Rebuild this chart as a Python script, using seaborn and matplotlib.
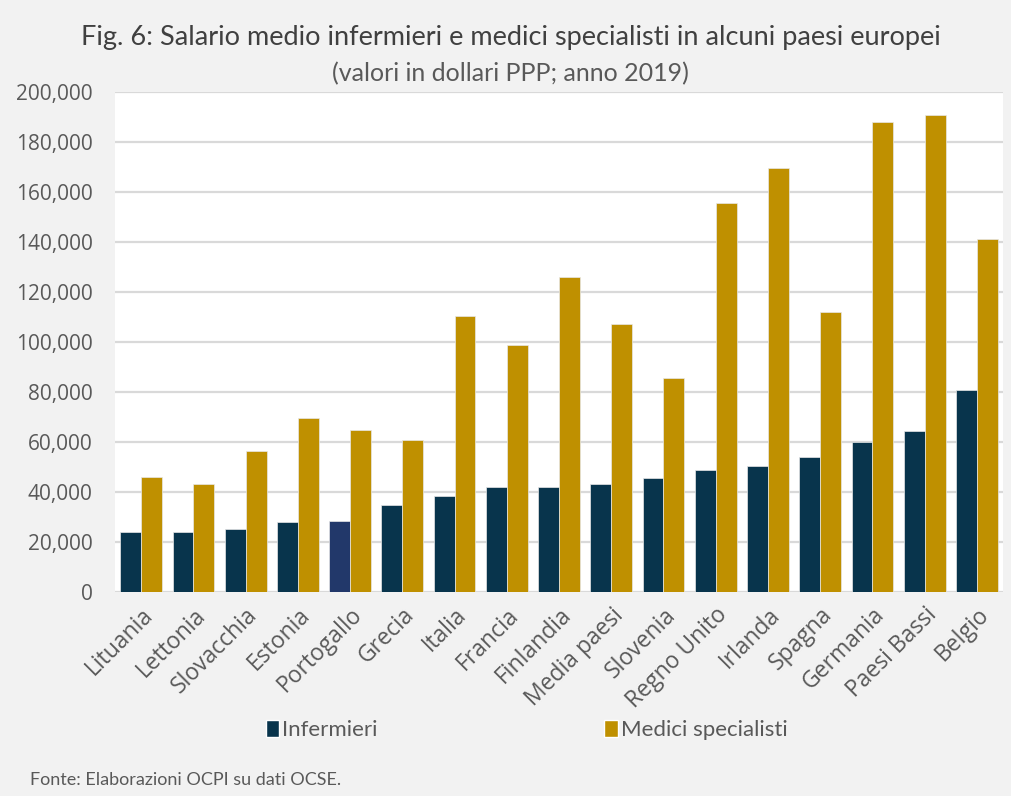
import matplotlib
matplotlib.use("Agg")
import matplotlib.pyplot as plt
import seaborn as sns
import pandas as pd
from matplotlib.patches import Patch

paesi = ["Lituania", "Lettonia", "Slovacchia", "Estonia", "Portogallo", "Grecia",
         "Italia", "Francia", "Finlandia", "Media paesi", "Slovenia", "Regno Unito",
         "Irlanda", "Spagna", "Germania", "Paesi Bassi", "Belgio"]
infermieri = [23800, 23800, 25200, 28000, 28400, 34800, 38400, 42000, 42000,
              43200, 45600, 48800, 50400, 54000, 60000, 64400, 80800]
medici = [46000, 43200, 56400, 69600, 64800, 60800, 110400, 98800, 126000,
          107200, 85600, 155600, 169600, 112000, 188000, 190800, 141200]
serie = ["Infermieri", "Medici specialisti"]
y_ticks = list(range(0, 200001, 20000))

df = pd.DataFrame({
    "Paese": paesi * 2,
    "Serie": [serie[0]] * len(paesi) + [serie[1]] * len(paesi),
    "Valore": infermieri + medici,
})

NAVY = "#08344c"
GOLD = "#bf9000"
HIGHLIGHT = "#22386a"
BG = "#f2f2f2"
TXT = "#595959"
TICK_FONT = ["Open Sans", "DejaVu Sans"]

sns.set_theme(style="white")
plt.rcParams["font.family"] = ["Lato", "DejaVu Sans"]

fig = plt.figure(figsize=(10.11, 7.96), dpi=100, facecolor=BG)
ax = fig.add_axes([0.1138, 0.2563, 0.8783, 0.6281])
ax.set_facecolor("white")

sns.barplot(data=df, x="Paese", y="Valore", hue="Serie", order=paesi,
            hue_order=serie, palette=[NAVY, GOLD], saturation=1, width=0.8, ax=ax,
            legend=False, edgecolor="#e8e8e8", linewidth=0.5)

# highlight Portugal's nurse bar
ax.containers[0][paesi.index("Portogallo")].set_facecolor(HIGHLIGHT)

ax.set_ylim(0, 200000)
ax.set_xlim(-0.5, len(paesi) - 0.5)
ax.set_yticks(y_ticks, [f"{v:,}" for v in y_ticks], family=TICK_FONT,
              fontsize=15, color=TXT)
ax.set_xticks(range(len(paesi)), paesi, family=TICK_FONT, fontsize=16.5,
              color=TXT, rotation=45, ha="right", rotation_mode="anchor")
ax.grid(axis="y", color="#d9d9d9", linewidth=1.6)
ax.set_axisbelow(True)
for s in ax.spines.values():
    s.set_visible(False)
ax.set_xlabel("")
ax.set_ylabel("")
ax.tick_params(axis="y", pad=16, length=0)
ax.tick_params(axis="x", length=0, pad=8)

fig.text(0.505, 0.953, "Fig. 6: Salario medio infermieri e medici specialisti in alcuni paesi europei",
         ha="center", va="center", fontsize=19.5, color="#404040")
fig.text(0.505, 0.908, "(valori in dollari PPP; anno 2019)",
         ha="center", va="center", fontsize=18, color=TXT)

handles = [Patch(facecolor=NAVY), Patch(facecolor=GOLD)]
fig.legend(handles, serie, loc="center", bbox_to_anchor=(0.521, 0.083), ncol=2,
           frameon=False, fontsize=16, handlelength=0.6, handleheight=0.85,
           handletextpad=0.15, columnspacing=10.2, labelcolor=TXT)

fig.text(0.03, 0.02, "Fonte: Elaborazioni OCPI su dati OCSE.", ha="left", va="center",
         fontsize=13, color=TXT)

fig.savefig("out.png", dpi=100, facecolor=BG)
